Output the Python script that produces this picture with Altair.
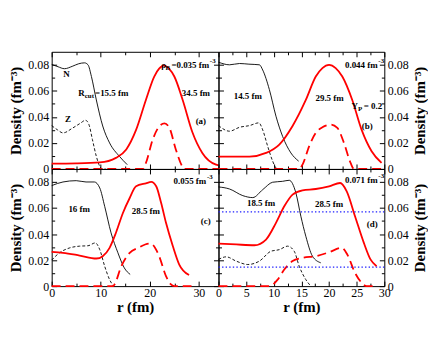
import altair as alt
import pandas as pd

FONT = "Liberation Serif"

# ---------------- data (r in fm, density in fm^-3) ----------------
# panel (a)  rho_B = 0.035
a_N_r = [0, 1.3, 2.6, 4.3, 5.5, 6.7, 7.4, 8.1, 9.1, 10.4, 11.8, 13.8, 15.4]
a_N = [0.0803, 0.0785, 0.077, 0.079, 0.0808, 0.0815, 0.080, 0.071, 0.053, 0.033, 0.020, 0.0097, 0.0033]
a_Z_r = [0, 1.2, 2.3, 4.3, 5.8, 6.9, 7.6, 8.3, 9.1, 9.8, 10.4, 11.0]
a_Z = [0.0333, 0.030, 0.0277, 0.0315, 0.035, 0.0374, 0.034, 0.0226, 0.0097, 0.002, 0.0, 0.0]
a_Rs_r = [0, 5, 9.8, 13.1, 15.2, 17.2, 19.2, 20.9, 21.9, 22.9, 23.9, 25, 26.7, 28.7, 30.7, 33.5, 34]
a_Rs = [0.0041, 0.0043, 0.005, 0.0085, 0.015, 0.030, 0.053, 0.071, 0.077, 0.0795, 0.077, 0.071, 0.053, 0.028, 0.0123, 0.0033, 0.0028]
a_Rd_r = [0, 18.6, 19.2, 20.6, 22, 23, 24, 25.3, 26.6, 27, 34]
a_Rd = [0, 0, 0.0046, 0.0226, 0.033, 0.035, 0.0315, 0.015, 0.002, 0, 0]

# panel (b)  rho_B = 0.044
b_N_r = [0, 2, 3.8, 5.5, 7.4, 8, 9.2, 10.4, 11.6, 13.1, 14.5]
b_N = [0.082, 0.080, 0.081, 0.0805, 0.080, 0.076, 0.061, 0.0405, 0.025, 0.0123, 0.006]
b_Z_r = [0, 2, 3.8, 5.6, 7.3, 8, 8.9, 9.8, 10.4, 11]
b_Z = [0.0333, 0.029, 0.032, 0.0333, 0.0354, 0.030, 0.0174, 0.006, 0.0008, 0]
b_Rs_r = [0, 5.6, 8.6, 11, 13.4, 15.8, 17.6, 18.8, 20, 21.2, 22.4, 24.2, 25.9, 27.7, 29.5]
b_Rs = [0.0095, 0.0095, 0.0123, 0.0187, 0.033, 0.053, 0.071, 0.0775, 0.080, 0.0775, 0.071, 0.053, 0.030, 0.0136, 0.0046]
b_Rd_r = [0, 14.6, 15.2, 16.4, 17.6, 18.8, 20.3, 21.5, 22.7, 23.9, 24.5, 29.5]
b_Rd = [0, 0, 0.0033, 0.0174, 0.0277, 0.032, 0.034, 0.0315, 0.020, 0.0046, 0, 0]

# panel (c)  rho_B = 0.055
c_N_r = [0, 2.3, 5, 7, 8.7, 9.8, 10.8, 12.1, 13.5, 14.8, 16]
c_N = [0.0772, 0.080, 0.081, 0.080, 0.080, 0.0754, 0.0613, 0.0409, 0.0256, 0.014, 0.009]
c_Z_r = [0, 1.6, 3.7, 5.7, 7.4, 8.9, 9.8, 10.8, 11.8, 12.6]
c_Z = [0.020, 0.0256, 0.0294, 0.0307, 0.031, 0.0332, 0.028, 0.0153, 0.005, 0]
c_Rs_r = [0, 2.3, 5.7, 9.1, 10.4, 11.8, 13.1, 14.5, 15.9, 17.2, 19.2, 20.3, 21.3, 22.3, 23.3, 24.7, 26, 28]
c_Rs = [0.0263, 0.0256, 0.0235, 0.0212, 0.023, 0.0294, 0.041, 0.056, 0.0677, 0.0767, 0.079, 0.080, 0.0767, 0.064, 0.0486, 0.0307, 0.0166, 0.0085]
c_Rd_r = [0, 12.5, 12.8, 14.2, 15.9, 17.6, 19.9, 20.5, 21.9, 23.3, 24.3, 25, 28.5]
c_Rd = [0, 0, 0.0013, 0.0153, 0.0256, 0.0294, 0.0327, 0.032, 0.023, 0.0077, 0.0013, 0, 0]

# panel (d)  rho_B = 0.071
d_N_r = [0, 2, 4.4, 6.2, 8, 9.8, 11.6, 12.8, 14, 14.9, 15.8, 17, 18.5]
d_N = [0.0762, 0.0746, 0.0695, 0.068, 0.0741, 0.0798, 0.0805, 0.0813, 0.0716, 0.0537, 0.0383, 0.023, 0.0179]
d_Z_r = [0, 1.4, 3.2, 5.3, 7.4, 9.5, 11, 12.5, 13.7, 14.6, 15.8, 16.7]
d_Z = [0.0205, 0.0225, 0.0192, 0.0166, 0.0192, 0.0268, 0.028, 0.0307, 0.0268, 0.0153, 0.005, 0]
d_Rs_r = [0, 3.2, 6.5, 8.6, 10.4, 11.9, 13.4, 15.2, 17.6, 20, 22, 23.2, 24.7, 26.3, 27.5, 28.6]
d_Rs = [0.0327, 0.032, 0.0314, 0.0358, 0.0486, 0.0613, 0.0703, 0.0736, 0.0746, 0.0767, 0.0792, 0.0728, 0.0537, 0.0332, 0.0205, 0.0153]
d_Rd_r = [0, 9.2, 10.7, 11.9, 13.4, 15.2, 17.6, 20, 22.3, 23.3, 24.7, 25.9, 26.8, 28.5]
d_Rd = [0, 0, 0.005, 0.0128, 0.0192, 0.0217, 0.023, 0.026, 0.0294, 0.0243, 0.0102, 0.0026, 0, 0]
d_levels = [0.057, 0.0146]

Y_MAJOR = [0, 0.02, 0.04, 0.06, 0.08]
Y_MINOR = [0.01, 0.03, 0.05, 0.07]
XL_MAJOR = [0, 10, 20, 30]
XL_MINOR = [5, 15, 25]
XR_MAJOR = [0, 5, 10, 15, 20, 25, 30]
XR_MINOR = [2.5, 7.5, 12.5, 17.5, 22.5, 27.5]

# annotations: panel, r, density, text, style
notes = [
    ("a", 3.0, 0.0726, "N", "c"),
    ("a", 3.3, 0.038, "Z", "c"),
    ("a", 5.4, 0.0585, "R", "l"),
    ("a", 5.4, 0.0585, "cut", "sub1"),
    ("a", 5.4, 0.0585, "=15.5 fm", "l2"),
    ("a", 32.1, 0.080, "=0.035 fm", "r"),
    ("a", 32.1, 0.080, "-3", "sup"),
    ("a", 32.1, 0.080, "B", "rB"),
    ("a", 32.1, 0.080, "ρ", "rRho"),
    ("a", 29.4, 0.0585, "34.5 fm", "c"),
    ("a", 30.4, 0.0367, "(a)", "c"),
    ("b", 5.3, 0.056, "14.5 fm", "c"),
    ("b", 28.8, 0.080, "0.044 fm", "r"),
    ("b", 28.8, 0.080, "-3", "sup"),
    ("b", 20.1, 0.0546, "29.5 fm", "c"),
    ("b", 24.05, 0.048, "Y", "l"),
    ("b", 24.05, 0.048, "P", "sub1"),
    ("b", 24.05, 0.048, "= 0.2", "l3"),
    ("b", 26.9, 0.033, "(b)", "c"),
    ("c", 5.6, 0.0593, "16 fm", "c"),
    ("c", 19.2, 0.058, "28.5 fm", "c"),
    ("c", 31.5, 0.0805, "0.055 fm", "r"),
    ("c", 31.5, 0.0805, "-3", "sup"),
    ("c", 31.4, 0.0498, "(c)", "c"),
    ("d", 7.7, 0.064, "18.5 fm", "c"),
    ("d", 20.0, 0.063, "28.5 fm", "c"),
    ("d", 28.8, 0.0813, "0.071 fm", "r"),
    ("d", 28.8, 0.0813, "-3", "sup"),
    ("d", 27.8, 0.048, "(d)", "c"),
]
notes_df = pd.DataFrame(notes, columns=["panel", "r", "d", "t", "style"])

# text styles: align, dx, dy, font size
STYLES = {
    "c": ("center", 0, 0, 9),
    "r": ("right", 0, 0, 9),
    "sup": ("left", 0.7, -4, 7),
    "l": ("left", 0, 0, 9),
    "sub1": ("left", 6.6, 3, 7),
    "l2": ("left", 17, 0, 9),
    "l3": ("left", 12.3, 0, 9),
    "rB": ("right", -39.3, 3, 7),
    "rRho": ("right", -43.5, 0, 9),
}


def tick_axis(orient, values, size):
    return alt.Axis(orient=orient, values=values, labels=False, domain=False,
                    grid=False, ticks=True, tickSize=size, offset=-size,
                    tickColor="black", tickWidth=1, title=None)


def panel(key, N, Z, Rs, Rd, left, bottom, levels=None):
    xdom = [0, 34] if left else [0, 30]
    xmaj = XL_MAJOR if left else XR_MAJOR
    xmin = XL_MINOR if left else XR_MINOR
    xs = alt.Scale(domain=xdom, nice=False, zero=False)
    ys = alt.Scale(domain=[0, 0.09], nice=False, zero=False)
    near = "left" if left else "right"
    far = "right" if left else "left"

    ylab = alt.Axis(orient=near, values=Y_MAJOR, format=".2~f", ticks=False,
                    domain=False, grid=False, labelPadding=3, labelFlush=False,
                    title="Density (fm⁻³)", titlePadding=4,
                    **({} if left else {"titleAngle": 270, "titleBaseline": "top"}))
    if bottom:
        xlab = alt.Axis(orient="bottom", values=xmaj, format="d", ticks=False,
                        domain=False, grid=False, labelPadding=1, labelFlush=False,
                        labelOverlap=False, title="r (fm)", titlePadding=2)
    else:
        xlab = None

    def line(r, d, color, width, xaxis, yaxis, dash=None):
        df = pd.DataFrame({"r": r, "d": d})
        kw = dict(color=color, strokeWidth=width, interpolate="monotone")
        if dash:
            kw["strokeDash"] = dash
        return alt.Chart(df).mark_line(**kw).encode(
            x=alt.X("r:Q", scale=xs, axis=xaxis),
            y=alt.Y("d:Q", scale=ys, axis=yaxis),
        )

    layers = [
        line(N[0], N[1], "black", 0.9, xlab, ylab),
        line(Z[0], Z[1], "black", 0.9, tick_axis("bottom", xmaj, 5),
             tick_axis(near, Y_MAJOR, 5), dash=[3, 2]),
        line(Rs[0], Rs[1], "#ff0000", 1.8, tick_axis("bottom", xmin, 3),
             tick_axis(near, Y_MINOR, 3)),
        line(Rd[0], Rd[1], "#ff0000", 1.8, tick_axis("top", xmaj, 5),
             tick_axis(far, Y_MAJOR, 5), dash=[9, 5]),
    ]
    sub = notes_df[notes_df.panel == key]
    first = True
    for st, (align, dx, dy, fs) in STYLES.items():
        part = sub[sub["style"] == st]
        if part.empty:
            continue
        if first:
            xa, ya = tick_axis("top", xmin, 3), tick_axis(far, Y_MINOR, 3)
            first = False
        else:
            xa, ya = None, None
        layers.append(
            alt.Chart(part).mark_text(
                align=align, baseline="middle", dx=dx, dy=dy, font=FONT,
                fontWeight="bold", fontSize=fs, color="black",
            ).encode(
                x=alt.X("r:Q", scale=xs, axis=xa),
                y=alt.Y("d:Q", scale=ys, axis=ya),
                text="t:N",
            )
        )
    if levels:
        layers.append(
            alt.Chart(pd.DataFrame({"d": levels})).mark_rule(
                color="#1f1fff", strokeWidth=1.4, strokeDash=[1.4, 2.2]
            ).encode(y=alt.Y("d:Q", scale=ys, axis=None))
        )
    return alt.layer(*layers).resolve_axis(x="independent", y="independent").properties(
        width=168 if left else 167, height=118
    )


pa = panel("a", (a_N_r, a_N), (a_Z_r, a_Z), (a_Rs_r, a_Rs), (a_Rd_r, a_Rd), True, False)
pb = panel("b", (b_N_r, b_N), (b_Z_r, b_Z), (b_Rs_r, b_Rs), (b_Rd_r, b_Rd), False, False)
pc = panel("c", (c_N_r, c_N), (c_Z_r, c_Z), (c_Rs_r, c_Rs), (c_Rd_r, c_Rd), True, True)
pd_ = panel("d", (d_N_r, d_N), (d_Z_r, d_Z), (d_Rs_r, d_Rs), (d_Rd_r, d_Rd), False, True, d_levels)

chart = alt.concat(pa, pb, pc, pd_, columns=2, spacing=0, bounds="flush").configure_view(
    stroke="black", strokeWidth=1
).configure_axis(
    labelFont=FONT, labelFontSize=12, labelColor="black",
    titleFont=FONT, titleFontSize=15, titleFontWeight="bold", titleColor="black",
).properties(
    padding={"left": 0, "top": 42, "right": 0, "bottom": 0},
    background="white",
)

chart.save("out.html", embed_options={"renderer": "svg", "actions": False})
